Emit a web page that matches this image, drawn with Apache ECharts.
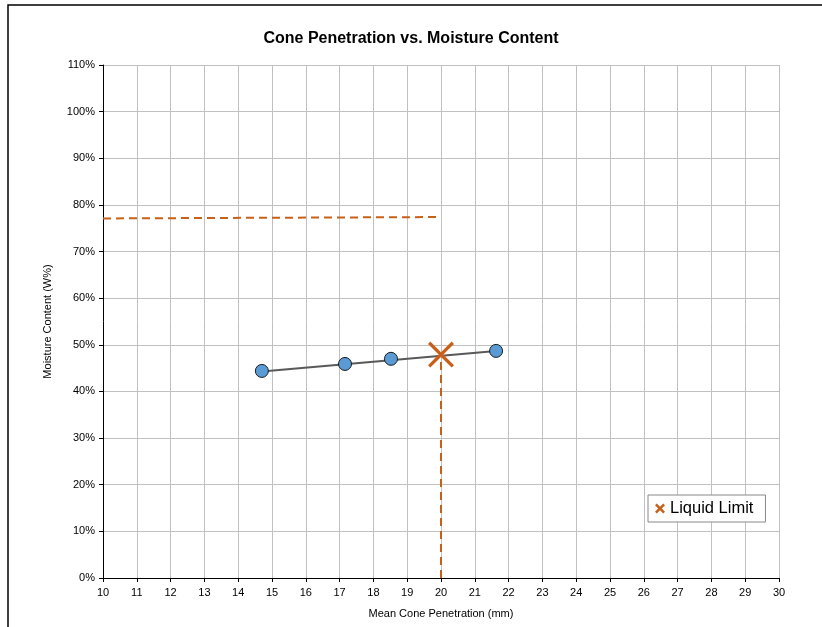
<!DOCTYPE html>
<html>
<head>
<meta charset="utf-8">
<script src="https://cdn.jsdelivr.net/npm/echarts@6/dist/echarts.min.js"></script>
<style>html,body{margin:0;padding:0;background:#fff}#c{width:822px;height:627px}</style>
</head>
<body>
<div id="c"></div>
<script>
// Data
const penetration = [14.7, 17.16, 18.52, 21.63];
const moisture = [44.4, 45.9, 47.0, 48.7];
const trendX = [14.7, 21.63];
const trendY = [44.3, 48.7];
const liquidLimitX = [20];
const liquidLimitY = [47.9];
const hGuideX = [10, 20];
const hGuideY = [77.1, 77.4];
const vGuideX = [20, 20];
const vGuideY = [0, 47.9];

const orange = '#C8601A';
const xPathThin = 'path://M0,0.9L0.9,0L5,4.1L9.1,0L10,0.9L5.9,5L10,9.1L9.1,10L5,5.9L0.9,10L0,9.1L4.1,5Z';
const xPathBold = 'path://M0,1.8L1.8,0L5,3.2L8.2,0L10,1.8L6.8,5L10,8.2L8.2,10L5,6.8L1.8,10L0,8.2L3.2,5Z';
const zip = (a, b) => a.map((v, i) => [v, b[i]]);

const chart = echarts.init(document.getElementById('c'), null, {renderer: 'canvas'});
chart.setOption({
  animation: false,
  backgroundColor: '#fff',
  textStyle: {fontFamily: 'Liberation Sans, Arial, sans-serif'},
  title: {
    text: 'Cone Penetration vs. Moisture Content',
    left: 'center', top: 26,
    textStyle: {fontSize: 16, fontWeight: 'bold', color: '#000', fontFamily: 'Liberation Sans, Arial, sans-serif'}
  },
  graphic: [{
    type: 'rect', shape: {x: 8, y: 5, width: 830, height: 640},
    style: {fill: 'none', stroke: '#000', lineWidth: 1.5}, silent: true, z: -1
  }],
  legend: {
    data: [{name: 'Liquid Limit', icon: xPathBold}],
    left: 648, top: 495,
    itemWidth: 10, itemHeight: 10, itemGap: 4,
    padding: [5, 12, 5, 7],
    borderColor: '#888', borderWidth: 1, backgroundColor: '#fff',
    textStyle: {fontSize: 16.5, color: '#000', fontFamily: 'Liberation Sans, Arial, sans-serif', padding: [0, 0, 0, 0]}
  },
  grid: {left: 103, right: 43, top: 65, bottom: 49, containLabel: false},
  xAxis: {
    type: 'value', min: 10, max: 30, interval: 1,
    name: 'Mean Cone Penetration (mm)', nameLocation: 'middle', nameGap: 30,
    nameTextStyle: {fontSize: 11, color: '#000'},
    axisLine: {lineStyle: {color: '#000', width: 1}},
    axisTick: {show: true, length: 4, lineStyle: {color: '#000'}},
    axisLabel: {fontSize: 11, color: '#000', margin: 9},
    splitLine: {show: true, lineStyle: {color: '#c0c0c0', width: 1}}
  },
  yAxis: {
    type: 'value', min: 0, max: 110, interval: 10,
    name: 'Moisture Content (W%)', nameLocation: 'middle', nameGap: 50,
    nameTextStyle: {fontSize: 11, color: '#000'},
    axisLine: {show: true, lineStyle: {color: '#000', width: 1}},
    axisTick: {show: true, length: 4, lineStyle: {color: '#000'}},
    axisLabel: {fontSize: 11, color: '#000', formatter: '{value}%', margin: 8},
    splitLine: {show: true, lineStyle: {color: '#c0c0c0', width: 1}}
  },
  series: [
    {
      name: 'hGuide', type: 'line', data: zip(hGuideX, hGuideY),
      symbol: 'none', lineStyle: {color: orange, width: 2, type: [8, 5]}, z: 3
    },
    {
      name: 'vGuide', type: 'line', data: zip(vGuideX, vGuideY),
      symbol: 'none', lineStyle: {color: orange, width: 2, type: [8, 5]}, z: 3
    },
    {
      name: 'Trend', type: 'line', data: zip(trendX, trendY),
      symbol: 'none', lineStyle: {color: '#595959', width: 2}, z: 4
    },
    {
      name: 'Data', type: 'scatter', data: zip(penetration, moisture),
      symbol: 'circle', symbolSize: 13,
      itemStyle: {color: '#5B9BD5', borderColor: '#1a1a1a', borderWidth: 1, opacity: 1}, z: 5
    },
    {
      name: 'Liquid Limit', type: 'scatter', data: zip(liquidLimitX, liquidLimitY),
      symbol: xPathThin, symbolSize: 26,
      itemStyle: {color: orange, opacity: 1}, z: 6
    }
  ]
});
</script>
</body>
</html>
